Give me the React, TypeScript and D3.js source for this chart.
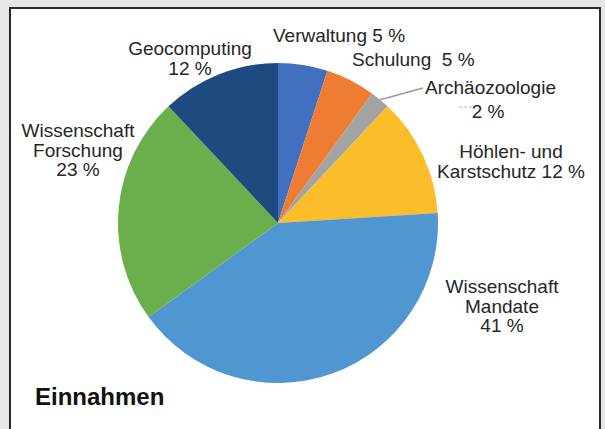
import React from "react";
import * as d3 from "d3";

const categories = [
  "Verwaltung",
  "Schulung",
  "Archäozoologie",
  "Höhlen- und Karstschutz",
  "Wissenschaft Mandate",
  "Wissenschaft Forschung",
  "Geocomputing",
];
const values = [5, 5, 2, 12, 41, 23, 12];
const labelLines = [
  ["Verwaltung 5 %"],
  ["Schulung  5 %"],
  ["Archäozoologie"],
  ["Höhlen- und", "Karstschutz 12 %"],
  ["Wissenschaft", "Mandate", "41 %"],
  ["Wissenschaft", "Forschung", "23 %"],
  ["Geocomputing", "12 %"],
];
const colors = ["#4270c0", "#ee7d33", "#a3a3a3", "#fcbd2a", "#5097d2", "#6aaf4c", "#1f4a7f"];
const title = "Einnahmen";

// layout (label anchor: x, first baseline, text-anchor)
const labelLayout: [number, number, string][] = [
  [273, 42, "start"],
  [352, 66, "start"],
  [425, 94, "start"],
  [511, 158, "middle"],
  [502, 293, "middle"],
  [78, 137, "middle"],
  [190, 55, "middle"],
];

export default function App() {
  const W = 605, H = 429;
  const cx = 278, cy = 223, r = 160;
  const pie = d3.pie<number>().sort(null).value((d) => d);
  const arcs = pie(values);
  const arc = d3.arc<d3.PieArcDatum<number>>().innerRadius(0).outerRadius(r);
  const lineH = 19.5;

  const archo = arcs[2];
  const mid = (archo.startAngle + archo.endAngle) / 2;
  const p0: [number, number] = [cx + r * Math.sin(mid), cy - r * Math.cos(mid)];

  return (
    <svg
      width={W}
      height={H}
      style={{ position: "absolute", left: 0, top: 0, display: "block" }}
      fontFamily="'Liberation Sans', Arial, sans-serif"
    >
      <rect x={0} y={0} width={W} height={H} fill="#e6e6e7" />
      <rect x={10} y={8} width={590} height={H + 10} fill="#ffffff" stroke="#2a2a2a" strokeWidth={2} />
      <g transform={`translate(${cx},${cy})`}>
        {arcs.map((a, i) => (
          <path key={categories[i]} d={arc(a) || ""} fill={colors[i]} />
        ))}
      </g>
      <line x1={p0[0]} y1={p0[1]} x2={423} y2={88} stroke="#9a9a9a" strokeWidth={1.5} />
      <line x1={459} y1={107} x2={474} y2={107} stroke="#b8b8b8" strokeWidth={1.2} strokeDasharray="3,2" />
      <text x={488} y={118} fontSize={19} fill="#262626" textAnchor="middle">2 %</text>
      {labelLines.map((lines, i) => (
        <text
          key={categories[i]}
          x={labelLayout[i][0]}
          y={labelLayout[i][1]}
          fontSize={19}
          fill="#262626"
          textAnchor={labelLayout[i][2]}
          style={{ whiteSpace: "pre" }}
        >
          {lines.map((l, j) => (
            <tspan key={j} x={labelLayout[i][0]} dy={j === 0 ? 0 : lineH}>
              {l}
            </tspan>
          ))}
        </text>
      ))}
      <text x={35} y={405} fontSize={24} fontWeight="bold" fill="#111">
        {title}
      </text>
    </svg>
  );
}
